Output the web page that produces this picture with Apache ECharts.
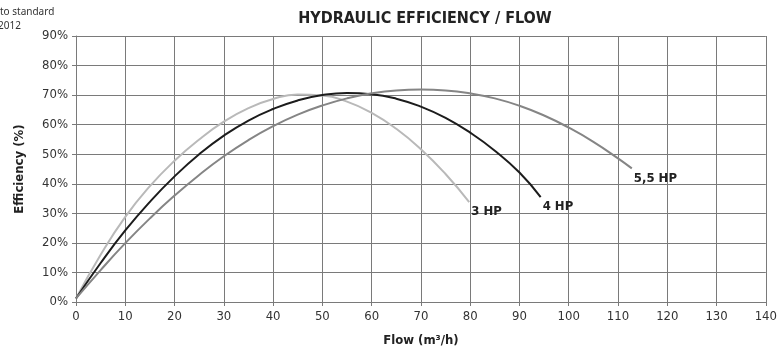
<!DOCTYPE html>
<html>
<head>
<meta charset="utf-8">
<script src="https://cdn.jsdelivr.net/npm/echarts@6/dist/echarts.min.js"></script>
<style>
  html, body { margin: 0; padding: 0; background: #fff; }
  #chart { width: 780px; height: 356px; }
</style>
</head>
<body>
<div id="chart"></div>
<script>
// Flow (m³/h) vs hydraulic efficiency (%) for three pump ratings
const flow3hp = [0, 5, 10, 15, 20, 25, 30, 35, 40, 45, 50, 55, 60, 65, 70, 75, 79.8];
const eff3hp  = [1.2, 16, 28.8, 39.2, 47.8, 55, 61, 65.6, 68.7, 70.2, 69.9, 67.8, 64, 58.6, 51.7, 43.3, 33.8];

const flow4hp = [0, 5, 10, 15, 20, 25, 30, 35, 40, 45, 50, 55, 60, 65, 70, 75, 80, 85, 90, 94.3];
const eff4hp  = [1.2, 13.2, 24.2, 33.9, 42.5, 50, 56.3, 61.4, 65.3, 68.2, 70, 70.7, 70.3, 68.8, 66.1, 62.3, 57.3, 51.2, 43.8, 35.5];

const flow55hp = [0, 5, 10, 15, 20, 25, 30, 35, 40, 45, 50, 55, 60, 65, 70, 75, 80, 85, 90, 95, 100, 105, 110, 112.8];
const eff55hp  = [1.2, 10.8, 19.9, 28.3, 36, 43, 49.3, 54.8, 59.5, 63.4, 66.5, 68.9, 70.6, 71.6, 71.9, 71.6, 70.6, 68.9, 66.4, 63.1, 59, 54.2, 48.6, 45.2];

const seriesNames = ['3 HP', '4 HP', '5,5 HP'];
const seriesColors = ['#b9b9b9', '#1c1c1c', '#858585'];

const xTicks = { min: 0, max: 140, step: 10 };
const yTicks = { min: 0, max: 90, step: 10 };

const tickFont = '"DejaVu Sans Condensed", "Liberation Sans Narrow", sans-serif';
const boldFont = '"DejaVu Sans Condensed", "DejaVu Sans", sans-serif';

function pairs(xs, ys) {
  return xs.map((x, i) => [x, ys[i]]);
}

function curve(name, xs, ys, color) {
  return {
    name: name,
    type: 'line',
    smooth: true,
    showSymbol: false,
    symbol: 'none',
    data: pairs(xs, ys),
    lineStyle: { color: color, width: 2 },
    itemStyle: { color: color },
    endLabel: {
      show: true,
      formatter: name,
      position: 'right',
      offset: [-6, 10],
      color: '#222',
      fontFamily: boldFont,
      fontWeight: 'bold',
      fontSize: 13
    },
    emphasis: { disabled: true }
  };
}

const chart = echarts.init(document.getElementById('chart'));
chart.setOption({
  animation: false,
  title: {
    text: 'HYDRAULIC EFFICIENCY / FLOW',
    left: 420,
    textAlign: 'center',
    top: 6,
    textStyle: { fontFamily: boldFont, fontWeight: 'bold', fontSize: 16, color: '#222' }
  },
  graphic: [
    { type: 'text', left: 0, top: 7, style: { text: 'to standard', fontFamily: '"Noto Sans", sans-serif', fontSize: 10, fill: '#333' } },
    { type: 'text', left: -2, top: 21, style: { text: '2012', fontFamily: '"Noto Sans", sans-serif', fontSize: 10, fill: '#333' } }
  ],
  grid: { left: 76, right: 14, top: 36, bottom: 54 },
  xAxis: {
    type: 'value',
    min: xTicks.min, max: xTicks.max, interval: xTicks.step,
    name: 'Flow (m³/h)',
    nameLocation: 'middle',
    nameGap: 32,
    nameTextStyle: { fontFamily: boldFont, fontWeight: 'bold', fontSize: 13, color: '#222' },
    axisLine: { show: true, lineStyle: { color: '#7a7a7a', width: 1 } },
    axisTick: { show: true, length: 4, lineStyle: { color: '#7a7a7a' } },
    axisLabel: { fontFamily: tickFont, fontSize: 13, color: '#333', margin: 8 },
    splitLine: { show: true, lineStyle: { color: '#7a7a7a', width: 1 } }
  },
  yAxis: {
    type: 'value',
    min: yTicks.min, max: yTicks.max, interval: yTicks.step,
    name: 'Efficiency (%)',
    nameLocation: 'middle',
    nameGap: 50,
    nameTextStyle: { fontFamily: boldFont, fontWeight: 'bold', fontSize: 13, color: '#222' },
    axisLine: { show: true, lineStyle: { color: '#7a7a7a', width: 1 } },
    axisTick: { show: true, length: 4, lineStyle: { color: '#7a7a7a' } },
    axisLabel: { fontFamily: tickFont, fontSize: 13, color: '#333', margin: 8, formatter: '{value}%' },
    splitLine: { show: true, lineStyle: { color: '#7a7a7a', width: 1 } }
  },
  series: [
    curve(seriesNames[0], flow3hp, eff3hp, seriesColors[0]),
    curve(seriesNames[1], flow4hp, eff4hp, seriesColors[1]),
    curve(seriesNames[2], flow55hp, eff55hp, seriesColors[2])
  ]
});
</script>
</body>
</html>
